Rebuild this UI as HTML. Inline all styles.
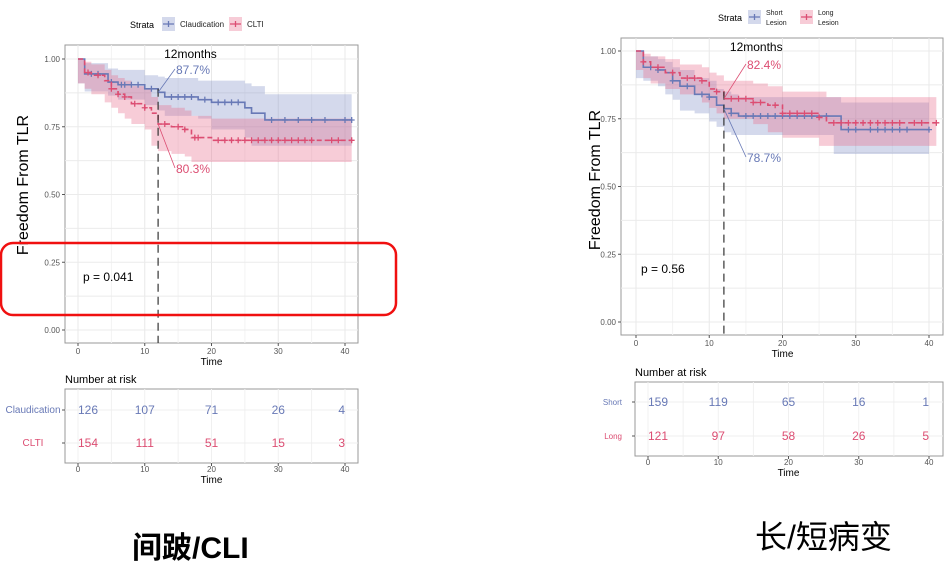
<!DOCTYPE html>
<html><head><meta charset="utf-8"><style>
body{margin:0;background:#fff;width:950px;height:572px;overflow:hidden}
svg{position:absolute;left:0;top:0;font-family:"Liberation Sans",sans-serif}
</style></head><body>
<svg id="s" width="950" height="572" xmlns="http://www.w3.org/2000/svg"></svg>
<script>
// ---- data: left chart (Claudication vs CLTI) ----
const leftTimes1=[0,1,4.5,6,10,12,13,18,20,25,26,28,41];
const leftSurv1=[1,0.945,0.915,0.905,0.89,0.877,0.86,0.85,0.84,0.82,0.80,0.775,0.775];
const leftLo1=[1,0.91,0.88,0.865,0.85,0.83,0.81,0.79,0.78,0.74,0.71,0.68,0.68];
const leftHi1=[1,0.985,0.965,0.96,0.94,0.935,0.93,0.92,0.92,0.91,0.90,0.87,0.87];
const leftCens1=[2,3,5,6.5,7,8,9,11,14,15,16,17,19,21,22,23,24,29,31,33,35,37,40,41];
const leftTimes2=[0,1,2,4,5,6,7,8,10,11,12,14,16,17,20,41];
const leftSurv2=[1,0.95,0.94,0.92,0.89,0.87,0.86,0.835,0.82,0.80,0.76,0.75,0.74,0.71,0.70,0.70];
const leftLo2=[1,0.91,0.89,0.87,0.84,0.82,0.80,0.78,0.76,0.74,0.68,0.66,0.65,0.64,0.62,0.62];
const leftHi2=[1,0.99,0.98,0.96,0.94,0.93,0.92,0.90,0.89,0.86,0.83,0.82,0.81,0.79,0.78,0.78];
const leftCens2=[1.5,3,5,6,7,8.5,10,13,15,16,17.5,18,21,22,23,24,25,26,27,28,29,30,31,32,33,34,35,38,39,41];
const leftRisk1=[126,107,71,26,4];
const leftRisk2=[154,111,51,15,3];
// ---- data: right chart (Short vs Long lesion) ----
const rightTimes1=[0,1,3,4,5,6,8,10,11,12,13,14,27,28,40];
const rightSurv1=[1,0.94,0.93,0.92,0.89,0.87,0.84,0.83,0.80,0.787,0.77,0.76,0.76,0.71,0.71];
const rightLo1=[1,0.90,0.89,0.87,0.84,0.82,0.78,0.77,0.74,0.72,0.70,0.69,0.69,0.62,0.62];
const rightHi1=[1,0.98,0.97,0.96,0.94,0.93,0.90,0.89,0.86,0.85,0.84,0.83,0.83,0.81,0.81];
const rightCens1=[2,3,5,7,9,10,13,15,16,17,18,19,20,21,22,23,24,26,29,30,32,33,34,35,36,37,40];
const rightTimes2=[0,1,2,4,6,9,10,11,12,16,18,20,25,26,41];
const rightSurv2=[1,0.96,0.94,0.92,0.90,0.89,0.86,0.85,0.824,0.81,0.80,0.77,0.755,0.735,0.735];
const rightLo2=[1,0.93,0.90,0.88,0.86,0.84,0.81,0.79,0.77,0.75,0.73,0.70,0.68,0.65,0.65];
const rightHi2=[1,0.99,0.98,0.97,0.95,0.94,0.92,0.91,0.89,0.88,0.87,0.85,0.85,0.83,0.83];
const rightCens2=[1,3,5,7,8,9,11,13,14,15,16,17,19,20,21,22,23,24,25,27,28,29,30,31,32,33,34,35,36,38,39,41];
const rightRisk1=[159,119,65,16,1];
const rightRisk2=[121,97,58,26,5];
const xTicks=[0,10,20,30,40];
const yTicks=[0,0.25,0.5,0.75,1];
const yTickLabels=["0.00","0.25","0.50","0.75","1.00"];

const NS="http://www.w3.org/2000/svg";
const svg=document.getElementById('s');
function el(tag,attrs,parent,text){const e=document.createElementNS(NS,tag);for(const k in attrs)e.setAttribute(k,attrs[k]);if(text!==undefined)e.textContent=text;(parent||svg).appendChild(e);return e;}
const BLUE="#6879b6",RED="#dc4d72",BBAND="rgba(120,138,196,0.32)",RBAND="rgba(232,110,140,0.35)";

function stepVal(ts,vs,t){let v=vs[0];for(let i=0;i<ts.length;i++){if(ts[i]<=t)v=vs[i];}return v;}
function stepPath(ts,vs,X,Y){let d="M"+X(ts[0])+","+Y(vs[0]);for(let i=1;i<ts.length;i++){d+=" H"+X(ts[i])+" V"+Y(vs[i]);}return d;}
function bandPath(ts,lo,hi,X,Y){let d="M"+X(ts[0])+","+Y(hi[0]);for(let i=1;i<ts.length;i++){d+=" H"+X(ts[i])+" V"+Y(hi[i]);}
 for(let i=ts.length-1;i>0;i--){d+=" V"+Y(lo[i])+" H"+X(ts[i-1]);} d+=" V"+Y(lo[0])+" Z";return d;}

function chart(o){
 const X=t=>o.x0+t*o.kx, Y=v=>o.y0-v*o.ky;
 const g=el('g',{});
 const p=el('rect',{x:o.px,y:o.py,width:o.pw,height:o.ph,fill:'#fff',stroke:'#999','stroke-width':1},g);
 
 for(let t=0;t<=40;t+=5){el('line',{x1:X(t),x2:X(t),y1:o.py,y2:o.py+o.ph,stroke:t%10?'#f3f3f3':'#e8e8e8'},g);}
 for(let v=0;v<=1.001;v+=0.125){el('line',{x1:o.px,x2:o.px+o.pw,y1:Y(v),y2:Y(v),stroke:'#ebebeb'},g);}
 yTicks.forEach((v,i)=>{const t=el('text',{x:o.px-5,y:Y(v)+3,'font-size':8,fill:'#555','text-anchor':'end'},g,yTickLabels[i]);
  el('line',{x1:o.px-3,x2:o.px,y1:Y(v),y2:Y(v),stroke:'#555'},g);});
 xTicks.forEach(v=>{const t=el('text',{x:X(v),y:o.py+o.ph+11,'font-size':8,fill:'#555','text-anchor':'middle'},g,String(v));
  el('line',{x1:X(v),x2:X(v),y1:o.py+o.ph,y2:o.py+o.ph+3,stroke:'#555'},g);});
 const xt=el('text',{x:X(20),y:o.py+o.ph+22,'font-size':10,fill:'#000','text-anchor':'middle'},g,'Time');
 const yt=el('text',{x:o.ytx,y:o.yty,'font-size':16,fill:'#000','text-anchor':'middle',transform:`rotate(-90 ${o.ytx} ${o.yty})`},g,'Freedom From TLR');
 o.series.forEach(s=>{
  const b=el('path',{d:bandPath(s.t,s.lo,s.hi,X,Y),fill:s.band,stroke:'none'},g);
 });
 o.series.forEach(s=>{
  const l=el('path',{d:stepPath(s.t,s.s,X,Y),fill:'none',stroke:s.col,'stroke-width':1.6,'stroke-dasharray':s.dash||''},g);
  s.c.forEach(c=>{const v=stepVal(s.t,s.s,c);const m=el('path',{d:`M${X(c)-3},${Y(v)} h6 M${X(c)},${Y(v)-3} v6`,stroke:s.col,'stroke-width':1.3},g);});
 });
 const top=Math.min(...o.series.map(s=>Y(stepVal(s.t,s.s,11.9))));
 const dl=el('line',{x1:X(12),x2:X(12),y1:top,y2:o.py+o.ph,stroke:'#333','stroke-width':1.2,'stroke-dasharray':'8,5'},g);
 const tm=el('text',{x:X(12)+6,y:o.py+13,'font-size':12,fill:'#000'},g,'12months');
 o.notes.forEach(n=>{const v=stepVal(n.s.t,n.s.s,12);el('line',{x1:X(12),y1:Y(v),x2:n.x-1,y2:n.y-5,stroke:n.s.col,'stroke-width':0.8},g);
  const t=el('text',{x:n.x,y:n.y,'font-size':12,fill:n.s.col},g,n.txt);});
 const pv=el('text',{x:o.pX,y:o.pY,'font-size':12,fill:'#000'},g,o.p);
 const lg=el('g',{},g);
 el('text',{x:o.lx,y:o.ly+4,'font-size':9,fill:'#000'},lg,'Strata');
 o.series.forEach((s,i)=>{const kx=o.lkx[i];el('rect',{x:kx,y:o.ly-7,width:13,height:14,fill:s.band},lg);
  el('path',{d:`M${kx+1},${o.ly} h11 M${kx+6.5},${o.ly-3} v6`,stroke:s.col,'stroke-width':1.3},lg);
  s.lab.forEach((t,j)=>{const lt=el('text',{x:kx+18,y:o.ly+(s.lab.length>1?(j?8:-2):3),'font-size':s.lab.length>1?7:8,fill:'#222'},lg,t);});});
 const R=o.risk;const RX=t=>R.x0+t*R.kx;
 const rt=el('g',{},g);
 el('text',{x:R.px,y:R.py-6,'font-size':11,fill:'#000'},rt,'Number at risk');
 el('rect',{x:R.px,y:R.py,width:R.pw,height:R.ph,fill:'#fff',stroke:'#999'},rt);
 for(let t=0;t<=40;t+=5)el('line',{x1:RX(t),x2:RX(t),y1:R.py,y2:R.py+R.ph,stroke:'#f0f0f0'},rt);
 o.series.forEach((s,i)=>{const ry=R.rows[i];el('line',{x1:R.px,x2:R.px+R.pw,y1:ry,y2:ry,stroke:'#efefef'},rt);
  el('line',{x1:R.px-3,x2:R.px,y1:ry,y2:ry,stroke:'#555'},rt);
  const rl=el('text',{x:R.lblX,y:ry+3,'font-size':R.lblFs,fill:s.col,'text-anchor':R.lblAnchor},rt,s.rlab);
  s.risk.forEach((n,j)=>{const v=xTicks[j];const tx=el('text',{x:RX(v),y:ry+4,'font-size':12,fill:s.col,'text-anchor':j==0?'start':(j==4?'end':'middle')},rt,String(n));});});
 xTicks.forEach(v=>{el('text',{x:RX(v),y:R.py+R.ph+9,'font-size':8,fill:'#555','text-anchor':'middle'},rt,String(v));el('line',{x1:RX(v),x2:RX(v),y1:R.py+R.ph,y2:R.py+R.ph+3,stroke:'#555'},rt);});
 el('text',{x:RX(20),y:R.py+R.ph+20,'font-size':10,fill:'#000','text-anchor':'middle'},rt,'Time');
}

const L1={key:'claudication',t:leftTimes1,s:leftSurv1,lo:leftLo1,hi:leftHi1,c:leftCens1,col:BLUE,band:BBAND,lab:['Claudication'],rlab:'Claudication',risk:leftRisk1};
const L2={key:'clti',t:leftTimes2,s:leftSurv2,lo:leftLo2,hi:leftHi2,c:leftCens2,col:RED,band:RBAND,dash:'5,3',lab:['CLTI'],rlab:'CLTI',risk:leftRisk2};
chart({name:'left-km-chart',px:65,py:45,pw:293,ph:298,x0:78,kx:6.675,y0:330,ky:271,ytx:28,yty:185,
 series:[L1,L2],notes:[{s:L1,txt:'87.7%',x:176,y:74},{s:L2,txt:'80.3%',x:176,y:173}],p:'p = 0.041',pX:83,pY:281,
 lx:130,ly:24,lkx:[162,229],
 risk:{px:65,py:389,pw:293,ph:74,x0:78,kx:6.675,rows:[410,443],lblX:33,lblFs:10,lblAnchor:'middle'}});
const R1={key:'short-lesion',t:rightTimes1,s:rightSurv1,lo:rightLo1,hi:rightHi1,c:rightCens1,col:BLUE,band:BBAND,lab:['Short','Lesion'],rlab:'Short',risk:rightRisk1};
const R2={key:'long-lesion',t:rightTimes2,s:rightSurv2,lo:rightLo2,hi:rightHi2,c:rightCens2,col:RED,band:RBAND,dash:'5,3',lab:['Long','Lesion'],rlab:'Long',risk:rightRisk2};
chart({name:'right-km-chart',px:621,py:38,pw:322,ph:297,x0:636,kx:7.325,y0:322,ky:271,ytx:600,yty:180,
 series:[R1,R2],notes:[{s:R2,txt:'82.4%',x:747,y:69},{s:R1,txt:'78.7%',x:747,y:162}],p:'p = 0.56',pX:641,pY:273,
 lx:718,ly:17,lkx:[748,800],
 risk:{px:635,py:382,pw:308,ph:74,x0:648,kx:7.025,rows:[402,436],lblX:622,lblFs:8,lblAnchor:'end'}});

const box=el('rect',{x:1,y:243,width:395,height:72,rx:12,fill:'none',stroke:'#f01010','stroke-width':2.5});

const c1=el('text',{x:132,y:558,'font-size':30,'font-weight':'bold',fill:'#000','font-family':'"Liberation Sans","Noto Sans CJK SC",sans-serif'},svg,'间跛/CLI');

const c2=el('text',{x:755,y:548,'font-size':32,fill:'#000','font-family':'"Liberation Sans","Noto Sans CJK SC",sans-serif'},svg,'长/短病变');

</script>
</body></html>
